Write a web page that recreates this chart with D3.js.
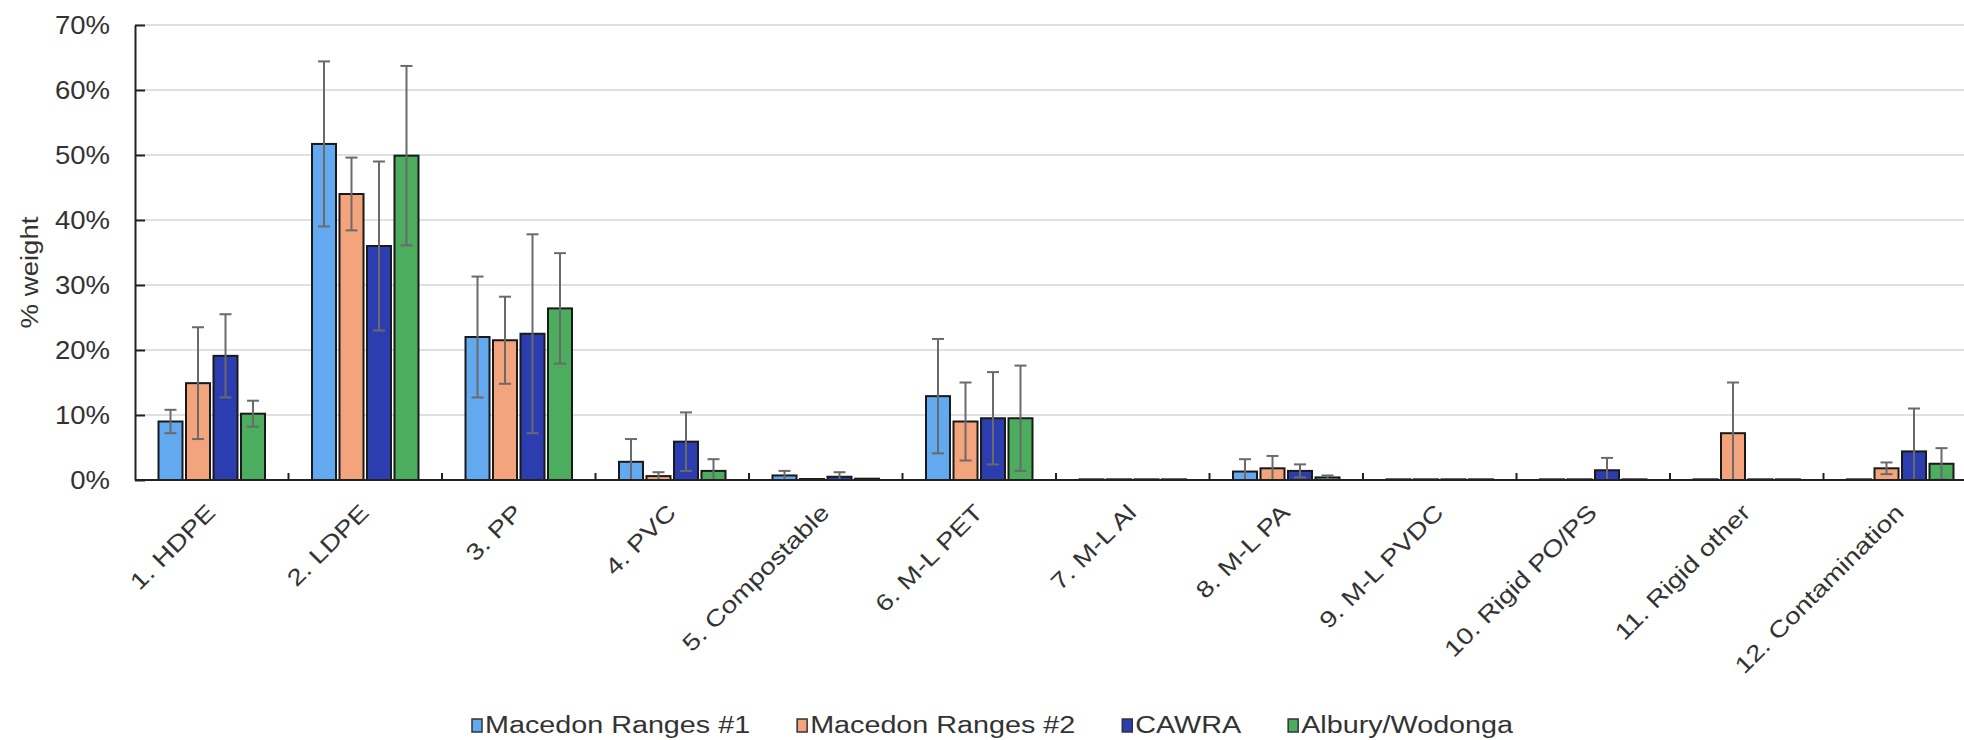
<!DOCTYPE html>
<html>
<head>
<meta charset="utf-8">
<script src="https://cdn.jsdelivr.net/npm/d3@7"></script>
<style>
  html, body { margin: 0; padding: 0; background: #fff; }
  svg { display: block; }
  text { font-family: "Liberation Sans", Arial, sans-serif; fill: #333; }
</style>
</head>
<body>
<svg id="chart" width="1964" height="740"></svg>
<script>
const categories = ["1. HDPE","2. LDPE","3. PP","4. PVC","5. Compostable","6. M-L PET","7. M-L Al","8. M-L PA","9. M-L PVDC","10. Rigid PO/PS","11. Rigid other","12. Contamination"];
const seriesNames = ["Macedon Ranges #1","Macedon Ranges #2","CAWRA","Albury/Wodonga"];
const seriesColors = ["#62a9f0","#f4a47c","#2b3daf","#4cad5f"];

const macedon1    = [9.0, 51.7, 22.0, 2.8, 0.7, 12.9, 0.1, 1.3, 0.1, 0.1, 0.1, 0.1];
const macedon1Err = [1.8, 12.7, 9.3, 3.5, 0.7, 8.8, 0, 1.9, 0, 0, 0, 0];
const macedon2    = [14.9, 44.0, 21.5, 0.6, 0.15, 9.0, 0.1, 1.8, 0.1, 0.1, 7.2, 1.8];
const macedon2Err = [8.6, 5.6, 6.7, 0.6, 0, 6.0, 0, 1.9, 0, 0, 7.8, 0.9];
const cawra       = [19.1, 36.0, 22.5, 5.9, 0.5, 9.5, 0.1, 1.4, 0.1, 1.5, 0.1, 4.4];
const cawraErr    = [6.4, 13.0, 15.3, 4.5, 0.7, 7.1, 0, 1.0, 0, 1.9, 0, 6.6];
const albury      = [10.2, 49.9, 26.4, 1.4, 0.2, 9.5, 0.1, 0.4, 0.1, 0.1, 0.1, 2.5];
const alburyErr   = [2.0, 13.8, 8.5, 1.8, 0, 8.1, 0, 0.3, 0, 0, 0, 2.4];

const yTicks = [0, 10, 20, 30, 40, 50, 60, 70];
const yTickLabels = ["0%","10%","20%","30%","40%","50%","60%","70%"];
const yTitle = "% weight";

const values = [macedon1, macedon2, cawra, albury];
const errors = [macedon1Err, macedon2Err, cawraErr, alburyErr];

(function draw() {
const svg = d3.select("#chart");
const W = 1964;
const mLeft = 135, mTop = 25, mBottom = 480;
const catW = 153.5;
const mRight = mLeft + catW * categories.length;

const x0 = d3.scaleBand().domain(categories).range([mLeft, mRight]).paddingInner(0).paddingOuter(0);
const x1 = d3.scaleBand().domain(seriesNames).range([0, x0.bandwidth()]).paddingInner(0.127).paddingOuter(0.855);
const y = d3.scaleLinear().domain([0, 70]).range([mBottom, mTop]);

// gridlines
svg.append("g").selectAll("line").data(yTicks.filter(d => d > 0)).join("line")
  .attr("x1", mLeft).attr("x2", W)
  .attr("y1", d => y(d)).attr("y2", d => y(d))
  .attr("stroke", "#d6d6d6").attr("stroke-width", 1.6);

// y axis
const yAxis = d3.axisLeft(y).tickValues(yTicks).tickSizeInner(-10).tickSizeOuter(0).tickFormat("");
const gy = svg.append("g").attr("transform", `translate(${mLeft},0)`).call(yAxis);
gy.select(".domain").attr("stroke", "#222").attr("stroke-width", 2);
gy.selectAll(".tick line").attr("stroke", "#222").attr("stroke-width", 2);

// y tick labels (slightly wide font)
svg.append("g").selectAll("text").data(yTicks).join("text")
  .attr("transform", d => `translate(110,${y(d)}) scale(1.1,1)`)
  .attr("text-anchor", "end").attr("dy", "0.36em")
  .attr("font-size", 25)
  .text((d, i) => yTickLabels[i]);

// y title
svg.append("text")
  .attr("transform", `translate(38,${(mTop + mBottom) / 2 + 20}) rotate(-90) scale(1.15,1)`)
  .attr("text-anchor", "middle").attr("font-size", 24)
  .text(yTitle);

// bars
const groups = svg.append("g").selectAll("g").data(categories).join("g")
  .attr("transform", d => `translate(${x0(d)},0)`);

groups.each(function(cat, ci) {
  const g = d3.select(this);
  seriesNames.forEach((s, si) => {
    const v = values[si][ci];
    g.append("rect")
      .attr("x", x1(s)).attr("width", x1.bandwidth())
      .attr("y", y(v)).attr("height", y(0) - y(v))
      .attr("fill", seriesColors[si])
      .attr("stroke", "#1a1a1a").attr("stroke-width", 2);
  });
});

// error bars
groups.each(function(cat, ci) {
  const g = d3.select(this);
  seriesNames.forEach((s, si) => {
    const v = values[si][ci], e = errors[si][ci];
    if (!e) return;
    const cx = x1(s) + x1.bandwidth() / 2;
    const hi = v + e, lo = Math.max(0, v - e);
    const eg = g.append("g").attr("stroke", "#6a6a6a").attr("stroke-width", 2);
    eg.append("line").attr("x1", cx).attr("x2", cx).attr("y1", y(hi)).attr("y2", y(lo));
    eg.append("line").attr("x1", cx - 6).attr("x2", cx + 6).attr("y1", y(hi)).attr("y2", y(hi));
    eg.append("line").attr("x1", cx - 6).attr("x2", cx + 6).attr("y1", y(lo)).attr("y2", y(lo));
  });
});

// x axis line
svg.append("line").attr("x1", mLeft).attr("x2", W).attr("y1", mBottom).attr("y2", mBottom)
  .attr("stroke", "#222").attr("stroke-width", 2.2);

// category separator ticks
svg.append("g").selectAll("line").data(categories.slice(1)).join("line")
  .attr("x1", d => x0(d)).attr("x2", d => x0(d))
  .attr("y1", mBottom).attr("y2", mBottom - 7)
  .attr("stroke", "#222").attr("stroke-width", 2);

// x labels
svg.append("g").selectAll("text").data(categories).join("text")
  .attr("transform", d => `translate(${x0(d) + x0.bandwidth() / 2 + 5},${mBottom + 34}) rotate(-45) scale(1.22,1)`)
  .attr("text-anchor", "end")
  .attr("font-size", 23)
  .text(d => d);

// legend
const legend = svg.append("g");
let lx = 472;
seriesNames.forEach((s, si) => {
  legend.append("rect").attr("x", lx).attr("y", 719).attr("width", 10).attr("height", 13)
    .attr("fill", seriesColors[si]).attr("stroke", "#333").attr("stroke-width", 1.5);
  const t = legend.append("text")
    .attr("transform", `translate(${lx + 13},733) scale(1.25,1)`)
    .attr("font-size", 23)
    .text(s);
  const w = t.node().getComputedTextLength() * 1.25;
  lx = lx + 13 + w + 47;
});
})();
</script>
</body>
</html>
